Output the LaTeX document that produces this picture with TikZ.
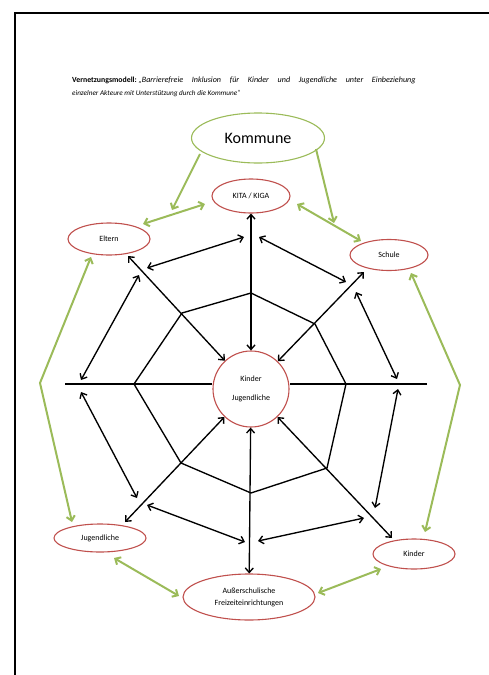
\documentclass[tikz,border=0pt]{standalone}
\usepackage{fontspec}
\setmainfont{Carlito}
\usetikzlibrary{shapes.geometric,arrows.meta}
\definecolor{ogreen}{HTML}{9BBB59}
\definecolor{ored}{HTML}{C0504D}
\begin{document}
\begin{tikzpicture}[x=1pt,y=-1pt,
 actor/.style={ellipse,draw=ored,line width=1.1pt,fill=white,inner sep=0pt,align=center,font=\fontsize{8}{9}\selectfont},
 link/.style={line width=1.35pt,{Straight Barb[length=4.5pt,width=8pt]}-{Straight Barb[length=4.5pt,width=8pt]}},
 web/.style={line width=1.35pt},
 gline/.style={draw=ogreen,line width=2pt},
 garrow/.style={gline,-{Straight Barb[length=4.5pt,width=8.5pt]}},
 gboth/.style={gline,{Straight Barb[length=4.5pt,width=8.5pt]}-{Straight Barb[length=4.5pt,width=8.5pt]}},
 frame/.style={line width=2pt,black}
]
\useasboundingbox (0,0) rectangle (488,675);
% page frame
\coordinate (fb) at (15,680);
\coordinate (fc) at (15,13);
\coordinate (fr) at (493,13);
\draw[frame] (fb) -- (fc) -- (fr);

% title
\node[anchor=base west,inner sep=0pt] (title1) at (72,82)
 {\fontsize{7.8}{9}\selectfont\bfseries Vernetzungsmodell:\ \mdseries\itshape\fontsize{8.1}{9}\selectfont\makebox[277pt][s]{„Barrierefreie Inklusion für Kinder und Jugendliche unter Einbeziehung}};
\node[anchor=base west,inner sep=0pt] (title2) at (72,95)
 {\fontsize{7.2}{9}\selectfont\itshape einzelner Akteure mit Unterstützung durch die Kommune“};

% nodes
\node[ellipse,draw=ogreen,line width=1.1pt,fill=white,inner sep=0pt,minimum width=133pt,minimum height=50pt,font=\fontsize{16}{18}\selectfont] (kommune) at (258,138) {Kommune};
\node[actor,minimum width=78pt,minimum height=34pt] (kita) at (251,196) {KITA / KIGA};
\node[actor,minimum width=82pt,minimum height=32pt] (eltern) at (109,239) {Eltern};
\node[actor,minimum width=78pt,minimum height=31pt] (schule) at (389,255) {Schule};
\node[actor,minimum width=92pt,minimum height=28pt] (jugend) at (100,538) {Jugendliche};
\node[actor,minimum width=82pt,minimum height=30pt] (kinder) at (414,554) {Kinder};
\node[actor,minimum width=132pt,minimum height=46pt,font=\fontsize{8}{12}\selectfont] (ausser) at (249,597) {Außerschulische\\Freizeiteinrichtungen};
\node[circle,draw=ored,line width=1.1pt,fill=white,inner sep=0pt,minimum size=76pt,font=\fontsize{8}{9.6}\selectfont] (hub) at (251,389)
 {\raisebox{3pt}{\begin{tabular}{@{}c@{}}Kinder\\[10pt]Jugendliche\end{tabular}}};

% web (octagon)
\coordinate (pT) at (251,293);
\coordinate (pUL) at (182,313);
\coordinate (pL) at (134,384);
\coordinate (pLL) at (181,463);
\coordinate (pB) at (251,493);
\coordinate (pLR) at (327,468);
\coordinate (pR) at (346,384);
\coordinate (pUR) at (315,324);
\draw[web] (pT) -- (pUL) -- (pL) -- (pLL) -- (pB) -- (pLR) -- (pR) -- (pUR) -- cycle;

% horizontal spokes
\coordinate (hL) at (65,384);
\coordinate (hR) at (427,384);
\draw[web] (hL) -- (hL -| hub.west);
\draw[web] (hR) -- (hR -| hub.east);

% spokes to hub
\coordinate (dUL) at (128,256);
\coordinate (dUR) at (364,272);
\coordinate (dLL) at (125,522);
\coordinate (dLR) at (392,538);
\draw[link] (kita) -- (hub);
\draw[link] (hub) -- (ausser);
\draw[link] (dUL) -- (hub);
\draw[link] (dUR) -- (hub);
\draw[link] (dLL) -- (hub);
\draw[link] (dLR) -- (hub);

% outer ring of double arrows
\coordinate (o1a) at (147,268); \coordinate (o1b) at (244,237);
\coordinate (o2a) at (259,237); \coordinate (o2b) at (346,282);
\coordinate (o3a) at (139,275); \coordinate (o3b) at (81,380);
\coordinate (o4a) at (356,292); \coordinate (o4b) at (397,379);
\coordinate (o5a) at (81,392);  \coordinate (o5b) at (137,498);
\coordinate (o6a) at (398,389); \coordinate (o6b) at (375,508);
\coordinate (o7a) at (147,505); \coordinate (o7b) at (245,542);
\coordinate (o8a) at (258,541); \coordinate (o8b) at (364,518);
\draw[link] (o1a) -- (o1b);
\draw[link] (o2a) -- (o2b);
\draw[link] (o3a) -- (o3b);
\draw[link] (o4a) -- (o4b);
\draw[link] (o5a) -- (o5b);
\draw[link] (o6a) -- (o6b);
\draw[link] (o7a) -- (o7b);
\draw[link] (o8a) -- (o8b);

% green arrows
\coordinate (g1a) at (200,154); \coordinate (g1b) at (172,210);
\coordinate (g2a) at (316,149); \coordinate (g2b) at (334,223);
\coordinate (g3a) at (143,224); \coordinate (g3b) at (205,204);
\coordinate (g4a) at (297,204); \coordinate (g4b) at (361,241);
\coordinate (g5a) at (91,257);  \coordinate (g5m) at (40,383); \coordinate (g5b) at (72,522);
\coordinate (g6a) at (411,273); \coordinate (g6m) at (460,385); \coordinate (g6b) at (425,532);
\coordinate (g7a) at (114,558); \coordinate (g7b) at (179,596);
\coordinate (g8a) at (318,593); \coordinate (g8b) at (381,569);
\draw[garrow] (g1a) -- (g1b);
\draw[garrow] (g2a) -- (g2b);
\draw[gboth] (g3a) -- (g3b);
\draw[gboth] (g4a) -- (g4b);
\draw[gboth] (g5a) -- (g5m) -- (g5b);
\draw[gboth] (g6a) -- (g6m) -- (g6b);
\draw[gboth] (g7a) -- (g7b);
\draw[gboth] (g8a) -- (g8b);
\end{tikzpicture}
\end{document}
